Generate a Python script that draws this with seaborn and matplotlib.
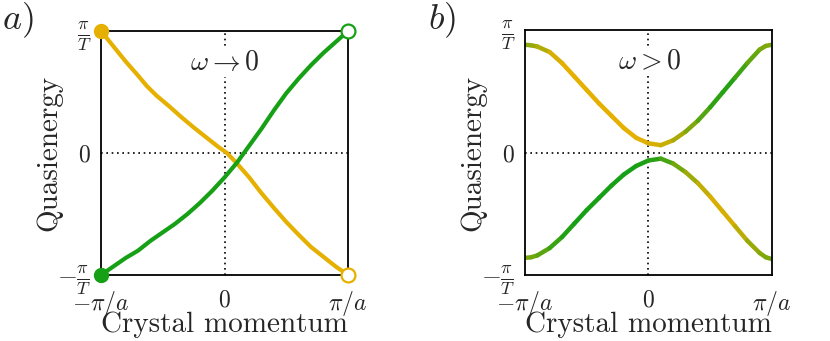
import numpy as np
import pandas as pd
import matplotlib.pyplot as plt
import seaborn as sns
from matplotlib.collections import LineCollection
from matplotlib.colors import LinearSegmentedColormap

# momentum in units of pi/a, quasienergy in units of pi/T
k_a = [-1.0, -0.9, -0.8, -0.7, -0.63, -0.55, -0.45, -0.35, -0.25, -0.15, -0.05,
       0.02, 0.1, 0.2, 0.3, 0.4, 0.5, 0.6, 0.7, 0.8, 0.9, 1.0]
yellow_a = [1.0, 0.875, 0.75, 0.635, 0.55, 0.47, 0.385, 0.295, 0.21, 0.13, 0.05,
            0.0, -0.085, -0.2, -0.33, -0.45, -0.565, -0.67, -0.77, -0.85, -0.93, -1.0]
k_a2 = [-1.0, -0.9, -0.8, -0.7, -0.6, -0.5, -0.4, -0.3, -0.2, -0.1, 0.0,
        0.1, 0.2, 0.3, 0.4, 0.5, 0.6, 0.7, 0.8, 0.9, 1.0]
green_a = [-1.0, -0.93, -0.86, -0.8, -0.72, -0.65, -0.58, -0.5, -0.41, -0.31, -0.2,
           -0.08, 0.06, 0.2, 0.35, 0.49, 0.61, 0.72, 0.82, 0.91, 1.0]

k_b = [-1.0, -0.95, -0.9, -0.8, -0.7, -0.6, -0.5, -0.4, -0.3, -0.2, -0.1, 0.0,
       0.1, 0.2, 0.3, 0.4, 0.5, 0.6, 0.7, 0.8, 0.9, 0.95, 1.0]
upper_b = [0.88, 0.875, 0.865, 0.82, 0.73, 0.62, 0.51, 0.4, 0.3, 0.2, 0.12, 0.075,
           0.06, 0.1, 0.17, 0.26, 0.37, 0.49, 0.61, 0.73, 0.84, 0.87, 0.88]
lower_b = [-0.86, -0.855, -0.84, -0.78, -0.69, -0.58, -0.47, -0.37, -0.27, -0.18, -0.11, -0.065,
           -0.05, -0.09, -0.16, -0.25, -0.36, -0.48, -0.6, -0.72, -0.82, -0.855, -0.87]
# colour mix along each band: 0 = yellow, 1 = green
upper_mix = [0.5, 0.42, 0.35, 0.15, 0.0, 0.0, 0.0, 0.0, 0.0, 0.0, 0.0, 0.05,
             0.1, 0.2, 0.4, 0.6, 0.8, 0.95, 0.9, 0.7, 0.55, 0.5, 0.5]
lower_mix = [0.5, 0.55, 0.6, 0.75, 0.9, 1.0, 1.0, 1.0, 1.0, 1.0, 1.0, 0.95,
             0.85, 0.65, 0.45, 0.25, 0.1, 0.05, 0.1, 0.3, 0.45, 0.5, 0.55]

x_ticks = [-1, 0, 1]
x_labels = [r'$-\pi/a$', r'$0$', r'$\pi/a$']
y_ticks = [-1, 0, 1]
y_labels = [r'$-\frac{\pi}{T}$', r'$0$', r'$\frac{\pi}{T}$']

YELLOW = '#e6b000'
GREEN = '#16a016'

sns.set_style('white')
plt.rcParams['font.family'] = ['cmr10']
plt.rcParams['mathtext.fontset'] = 'cm'
plt.rcParams['axes.unicode_minus'] = False

fig = plt.figure(figsize=(8.3, 3.41), dpi=100)
ax_a = fig.add_axes([0.1217, 0.1935, 0.2976, 0.7155])
ax_b = fig.add_axes([0.6325, 0.1935, 0.2976, 0.7185])


def style_axes(ax):
    ax.set_xlim(-1, 1)
    ax.set_ylim(-1, 1)
    ax.axvline(0, color='black', ls=(0, (1, 2.2)), lw=1.2, zorder=0)
    ax.axhline(0, color='black', ls=(0, (1, 2.2)), lw=1.2, zorder=0)
    ax.set_xticks(x_ticks)
    ax.set_xticklabels(x_labels)
    ax.set_yticks(y_ticks)
    ax.set_yticklabels(y_labels)
    ax.tick_params(length=0, labelsize=17)
    ax.tick_params(axis='x', pad=10)
    ax.tick_params(axis='y', pad=7)
    for lab in ax.get_yticklabels():
        if 'frac' in lab.get_text():
            lab.set_fontsize(18.5)
    ax.set_xlabel('Crystal momentum', fontsize=21)
    ax.set_ylabel('Quasienergy', fontsize=21)
    ax.xaxis.set_label_coords(0.5, -0.148)
    ax.yaxis.set_label_coords(-0.155, 0.5)
    for sp in ax.spines.values():
        sp.set_color('black')
        sp.set_linewidth(1.3)


# panel a
df_y = pd.DataFrame({'k': k_a, 'E': yellow_a})
df_g = pd.DataFrame({'k': k_a2, 'E': green_a})
sns.lineplot(data=df_y, x='k', y='E', sort=False, color=YELLOW, lw=3, ax=ax_a)
sns.lineplot(data=df_g, x='k', y='E', sort=False, color=GREEN, lw=3, ax=ax_a)
ax_a.plot(k_a[0], yellow_a[0], 'o', ms=10, color=YELLOW, clip_on=False, zorder=5)
ax_a.plot(k_a2[0], green_a[0], 'o', ms=10, color=GREEN, clip_on=False, zorder=5)
ax_a.plot(k_a2[-1], green_a[-1], 'o', ms=10, mfc='white', mec=GREEN, mew=1.6,
          clip_on=False, zorder=5)
ax_a.plot(k_a[-1], yellow_a[-1], 'o', ms=10, mfc='white', mec=YELLOW, mew=1.6,
          clip_on=False, zorder=5)
style_axes(ax_a)
ax_a.text(0.0, 0.74, r'$\omega \rightarrow 0$', fontsize=20, ha='center', va='center',
          bbox=dict(fc='white', ec='none', pad=1))

# panel b, colour graded bands
cmap = LinearSegmentedColormap.from_list('yg', [YELLOW, GREEN])
for E, mix in [(upper_b, upper_mix), (lower_b, lower_mix)]:
    pts = np.column_stack([k_b, E])
    segs = np.stack([pts[:-1], pts[1:]], axis=1)
    seg_mix = (np.array(mix[:-1]) + np.array(mix[1:])) / 2
    lc = LineCollection(segs, cmap=cmap, norm=plt.Normalize(0, 1), lw=3.2,
                        capstyle='round', joinstyle='round')
    lc.set_array(seg_mix)
    ax_b.add_collection(lc)
style_axes(ax_b)
ax_b.text(0.01, 0.74, r'$\omega > 0$', fontsize=20, ha='center', va='center',
          bbox=dict(fc='white', ec='none', pad=1))

fig.text(0.002, 0.94, r'$a)$', fontsize=26, ha='left', va='center')
fig.text(0.516, 0.94, r'$b)$', fontsize=26, ha='left', va='center')

fig.savefig('out.png', dpi=100)
